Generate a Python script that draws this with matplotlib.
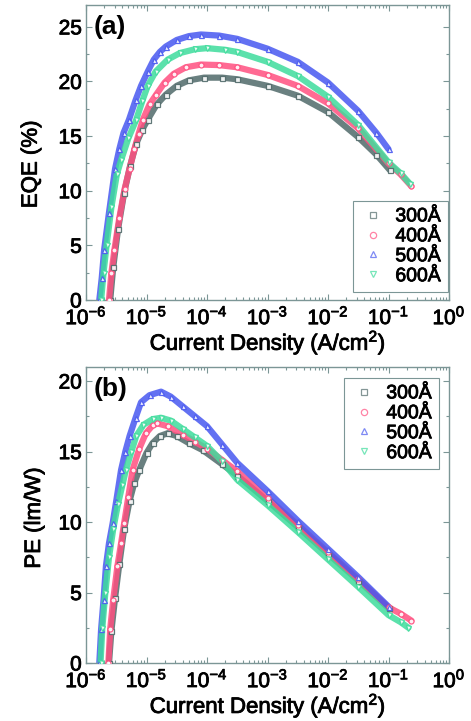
import numpy as np
import matplotlib
matplotlib.use("Agg")
import matplotlib.pyplot as plt
import matplotlib.patheffects as pe
from matplotlib.ticker import AutoMinorLocator, LogLocator, NullFormatter, FixedLocator

plt.rcParams['font.family'] = ['Liberation Sans', 'DejaVu Sans']
plt.rcParams['mathtext.fontset'] = 'custom'
plt.rcParams['mathtext.rm'] = 'Liberation Sans'
plt.rcParams['mathtext.it'] = 'Liberation Sans'
plt.rcParams['mathtext.bf'] = 'Liberation Sans:bold'

# ---- data: log10(current density, A/cm^2) and efficiency ----
labels = ['300Å', '400Å', '500Å', '600Å']

eqe_300_logj = [-5.60, -5.55, -5.47, -5.37, -5.27, -5.17, -5.07, -4.98, -4.83, -4.68, -4.50, -4.30,
                -4.05, -3.75, -3.50, -3.00, -2.50, -2.00, -1.50, -1.20, -0.98]
eqe_300 = [0.0, 3.0, 6.5, 9.8, 12.3, 14.3, 15.6, 16.5, 17.9, 18.8, 19.6, 20.1,
           20.35, 20.35, 20.2, 19.6, 18.7, 17.2, 14.9, 13.3, 11.9]

eqe_400_logj = [-5.62, -5.58, -5.53, -5.45, -5.36, -5.28, -5.20, -5.13, -5.06, -4.95, -4.84, -4.70,
                -4.55, -4.35, -4.10, -3.80, -3.50, -3.00, -2.50, -2.00, -1.50, -1.00, -0.80, -0.62]
eqe_400 = [0.0, 2.5, 4.6, 7.5, 10.2, 12.0, 13.8, 15.2, 16.5, 17.9, 18.8, 19.9,
           20.7, 21.3, 21.55, 21.5, 21.3, 20.6, 19.6, 18.0, 15.7, 12.5, 11.5, 10.4]

eqe_500_logj = [-5.78, -5.74, -5.70, -5.62, -5.52, -5.45, -5.38, -5.29, -5.18, -5.09, -4.98, -4.88,
                -4.78, -4.68, -4.50, -4.30, -4.10, -3.80, -3.50, -3.00, -2.50, -2.00, -1.50, -1.20, -1.00]
eqe_500 = [0.0, 2.0, 4.6, 8.0, 12.0, 13.8, 15.3, 16.5, 18.3, 19.6, 20.9, 22.0,
           22.7, 23.2, 23.8, 24.15, 24.3, 24.2, 23.9, 23.0, 21.8, 19.9, 17.3, 15.3, 13.8]

eqe_600_logj = [-5.75, -5.71, -5.66, -5.58, -5.49, -5.42, -5.30, -5.17, -5.07, -4.98, -4.85, -4.65,
                -4.45, -4.20, -4.00, -3.70, -3.50, -3.00, -2.50, -2.00, -1.50, -1.00, -0.80, -0.64]
eqe_600 = [0.0, 2.5, 5.0, 8.5, 11.5, 12.8, 14.8, 16.5, 18.2, 19.6, 20.9, 22.0,
           22.6, 22.95, 23.05, 22.9, 22.7, 21.8, 20.5, 18.6, 16.0, 12.6, 11.6, 10.6]

pe_300_logj = [-5.62, -5.58, -5.52, -5.45, -5.37, -5.28, -5.20, -5.12, -5.00, -4.90, -4.78, -4.65,
               -4.50, -4.30, -4.07, -3.75, -3.50, -3.00, -2.50, -2.00, -1.50, -1.00]
pe_300 = [0.0, 2.3, 4.6, 7.0, 9.5, 11.5, 12.8, 13.7, 14.9, 15.6, 16.1, 16.3,
          16.1, 15.6, 15.1, 14.1, 13.3, 11.5, 9.65, 7.75, 5.85, 3.9]

pe_400_logj = [-5.63, -5.60, -5.55, -5.48, -5.42, -5.37, -5.30, -5.23, -5.12, -5.01, -4.90, -4.82,
               -4.65, -4.40, -4.20, -4.00, -3.75, -3.50, -3.00, -2.50, -2.00, -1.50, -1.00, -0.80, -0.62]
pe_400 = [0.0, 2.4, 4.5, 6.9, 8.5, 9.9, 11.8, 13.7, 15.2, 16.3, 16.85, 17.0,
          16.8, 16.2, 15.7, 15.2, 14.4, 13.6, 11.7, 9.8, 7.85, 5.95, 3.95, 3.5, 3.0]

pe_500_logj = [-5.78, -5.75, -5.71, -5.67, -5.62, -5.56, -5.50, -5.42, -5.35, -5.28, -5.18, -5.09,
               -4.95, -4.76, -4.60, -4.40, -4.20, -4.00, -3.75, -3.50, -3.00, -2.50, -2.00, -1.50, -1.00]
pe_500 = [0.0, 2.4, 4.5, 6.9, 8.5, 9.9, 11.5, 13.7, 15.0, 16.1, 17.4, 18.5,
          19.0, 19.25, 18.9, 18.2, 17.5, 16.8, 15.5, 14.2, 12.2, 10.1, 8.1, 6.1, 4.0]

pe_600_logj = [-5.76, -5.73, -5.68, -5.62, -5.55, -5.47, -5.40, -5.34, -5.25, -5.17, -5.05, -4.90,
               -4.76, -4.60, -4.40, -4.20, -4.00, -3.75, -3.50, -3.00, -2.50, -2.00, -1.50, -1.00, -0.80, -0.67]
pe_600 = [0.0, 2.5, 5.0, 7.5, 9.5, 11.3, 12.6, 13.7, 15.0, 16.1, 16.9, 17.3,
          17.4, 17.2, 16.6, 16.0, 15.4, 14.3, 13.0, 11.2, 9.3, 7.35, 5.4, 3.4, 2.9, 2.5]

colors = ['#506a6a', '#ff5080', '#4858f0', '#3edc9c']
markers = ['s', 'o', '^', 'v']

eqe_sets = [(eqe_300_logj, eqe_300), (eqe_400_logj, eqe_400),
            (eqe_500_logj, eqe_500), (eqe_600_logj, eqe_600)]
pe_sets = [(pe_300_logj, pe_300), (pe_400_logj, pe_400),
           (pe_500_logj, pe_500), (pe_600_logj, pe_600)]

W, H = 471, 721
fig = plt.figure(figsize=(W / 100, H / 100), dpi=100)

spine_col = '#7c9696'
heavy = [pe.withStroke(linewidth=0.6, foreground='black')]

ax_a = fig.add_axes([86 / W, 1 - 300 / H, 363 / W, 295 / H])
ax_b = fig.add_axes([86 / W, 1 - 663 / H, 363 / W, 296 / H])


def draw(ax, sets, ylim, ylabel, ylab_xy, panel, legend_kw):
    handles = []
    for (lj, vals), c, m, lab in zip(sets, colors, markers, labels):
        x = 10.0 ** np.asarray(lj)
        ax.plot(x, vals, '-', color=c, lw=4.5, alpha=0.85, solid_capstyle='round', zorder=2)
        ax.plot(x, vals, m, mfc='white', mec=c, ms=3.6, mew=0.9, alpha=0.9, zorder=3)
        h, = ax.plot([], [], m, mfc='none', mec=c, ms=4.5, mew=0.9, alpha=0.7, label=lab)
        handles.append(h)
    ax.set_xscale('log')
    ax.set_xlim(1e-6, 1)
    ax.set_ylim(*ylim)
    ax.xaxis.set_major_locator(FixedLocator([10.0 ** k for k in range(-6, 1)]))
    ax.xaxis.set_minor_locator(LogLocator(base=10, subs=np.arange(2, 10), numticks=20))
    ax.xaxis.set_minor_formatter(NullFormatter())
    ax.set_xticklabels([r'$10^{%d}$' % k for k in range(-6, 1)])
    ax.yaxis.set_minor_locator(AutoMinorLocator(2))
    ax.tick_params(which='both', direction='in', top=True, right=True, colors=spine_col,
                   labelcolor='black', width=0.8)
    ax.tick_params(which='major', length=4, labelsize=15, pad=3)
    ax.tick_params(which='minor', length=2.5)
    ax.tick_params(axis='x', which='major', pad=4.5)
    for s in ax.spines.values():
        s.set_color(spine_col)
        s.set_linewidth(1.0)
    ax.set_xlabel('Current Density (A/cm$^{2}$)', fontsize=16)
    ax.xaxis.set_label_coords(0.501, -0.093, transform=ax.transAxes)
    ax.set_ylabel(ylabel, fontsize=16)
    ax.yaxis.set_label_coords(*ylab_xy)
    ax.text(0.02, 0.965, panel, transform=ax.transAxes, fontsize=19, fontweight='bold',
            va='top', ha='left')
    leg = ax.legend(handles=handles, fontsize=14, frameon=True, fancybox=False,
                    edgecolor=spine_col, framealpha=1, handlelength=1.4, handletextpad=0.45,
                    labelspacing=0.12, borderpad=0.35, borderaxespad=0, **legend_kw)
    leg.get_frame().set_linewidth(0.8)
    for t in (ax.get_xticklabels() + ax.get_yticklabels() + leg.get_texts()
              + [ax.xaxis.label, ax.yaxis.label]):
        t.set_path_effects(heavy)


draw(ax_a, eqe_sets, (0, 27), 'EQE (%)', (-0.122, 0.46), '(a)',
     dict(loc='lower right', bbox_to_anchor=(0.997, 0.027)))
draw(ax_b, pe_sets, (0, 21), 'PE (lm/W)', (-0.113, 0.49), '(b)',
     dict(loc='upper right', bbox_to_anchor=(0.972, 0.963)))

fig.savefig('out.png', dpi=100)
